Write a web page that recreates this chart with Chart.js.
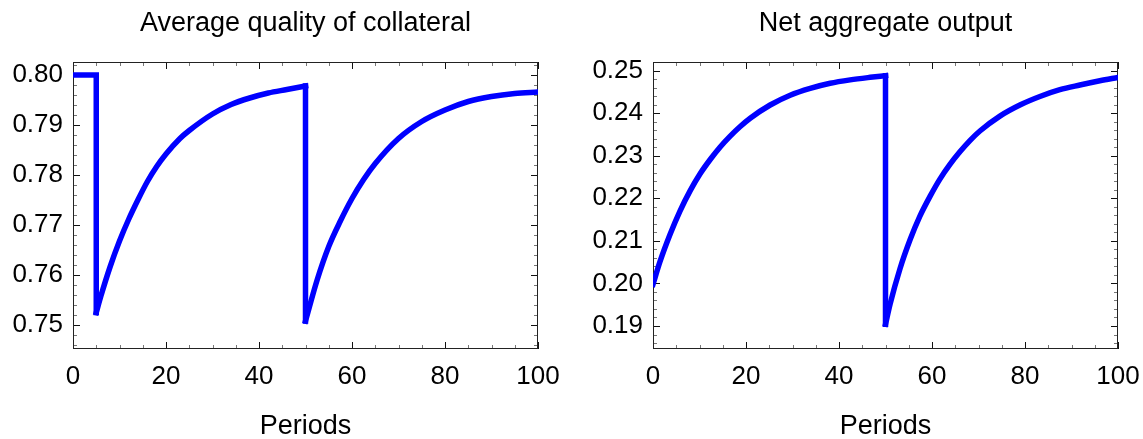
<!DOCTYPE html>
<html>
<head>
<meta charset="utf-8">
<script src="https://cdn.jsdelivr.net/npm/chart.js@4.4.0/dist/chart.umd.min.js"></script>
<style>
  html, body { margin: 0; padding: 0; background: #fff; overflow: hidden; }
  canvas { position: absolute; top: 0; }
  #qualityChart { left: 0; }
  #outputChart { left: 571px; }
</style>
</head>
<body>
<canvas id="qualityChart" width="571" height="439"></canvas>
<canvas id="outputChart" width="572" height="439"></canvas>
<script>
// Average quality of collateral
const qualityFlatT = [0, 5, 5];
const qualityFlat = [0.800, 0.800, 0.7525];
const qualityRec1T = [5, 6, 8, 10, 12, 14, 16, 18, 20, 23, 25, 30, 34, 38, 42, 46, 50];
const qualityRec1 = [0.7525, 0.7558, 0.7617, 0.7668, 0.7712, 0.7751, 0.7787, 0.7817, 0.7842, 0.7873, 0.7889, 0.7922, 0.7941, 0.7954, 0.7964, 0.7971, 0.7978];
const qualityDropT = [50, 50];
const qualityDrop = [0.7978, 0.7508];
const qualityRec2T = [50, 52.5, 55, 57.5, 60, 62.5, 65, 70, 75, 80, 85, 90, 95, 100];
const qualityRec2 = [0.7508, 0.7590, 0.7657, 0.7708, 0.7753, 0.7791, 0.7823, 0.7873, 0.7907, 0.7930, 0.7947, 0.7957, 0.7963, 0.7966];

// Net aggregate output
const outputRec1T = [0, 1.5, 3.7, 5.8, 8, 10.1, 12.3, 14.4, 16.6, 18.7, 20.9, 25.2, 29.5, 33.8, 38.1, 42.4, 46.7, 50];
const outputRec1 = [0.1998, 0.2051, 0.2116, 0.2170, 0.2218, 0.2257, 0.2291, 0.2320, 0.2346, 0.2368, 0.2388, 0.2419, 0.2442, 0.2458, 0.2470, 0.2478, 0.2484, 0.2488];
const outputDropT = [50, 50];
const outputDrop = [0.2488, 0.1904];
const outputRec2T = [50, 51, 53.1, 55.3, 57.4, 59.6, 61.7, 63.9, 66, 68.2, 70.3, 74.6, 78.9, 83.2, 87.5, 91.8, 96.1, 100];
const outputRec2 = [0.1904, 0.1952, 0.2034, 0.2103, 0.2158, 0.2205, 0.2245, 0.2280, 0.2309, 0.2336, 0.2358, 0.2393, 0.2419, 0.2439, 0.2455, 0.2466, 0.2476, 0.2484];

const xTicks = [0, 20, 40, 60, 80, 100];

const FONT = "'Liberation Sans', Arial, Helvetica, sans-serif";
const BLUE = '#0000ff';

// frame with inward ticks on all four sides, like the original plot
const frameTicks = {
    id: 'frameTicks',
    beforeDatasetsDraw(chart) {
        const { ctx, chartArea: a, scales: { x, y } } = chart;
        ctx.save();
        ctx.lineWidth = 1;

        const tick = (x1, y1, x2, y2, major) => {
            ctx.strokeStyle = major ? '#111' : '#777';
            ctx.beginPath();
            ctx.moveTo(x1, y1);
            ctx.lineTo(x2, y2);
            ctx.stroke();
        };

        for (let k = 0; k <= 20; k++) {
            const px = Math.round(x.getPixelForValue(k * 5)) + 0.5;
            const major = k % 4 === 0;
            const len = major ? 7 : 4;
            tick(px, a.bottom, px, a.bottom - len, major);
            tick(px, a.top, px, a.top + len, major);
        }

        const kMin = Math.ceil(y.min / 0.002 - 1e-6);
        const kMax = Math.floor(y.max / 0.002 + 1e-6);
        for (let k = kMin; k <= kMax; k++) {
            const py = Math.round(y.getPixelForValue(k * 0.002)) + 0.5;
            const major = k % 5 === 0;
            const len = major ? 7 : 4;
            tick(a.left, py, a.left + len, py, major);
            tick(a.right, py, a.right - len, py, major);
        }

        ctx.strokeStyle = '#222';
        ctx.strokeRect(a.left + 0.5, a.top + 0.5, a.right - a.left - 1, a.bottom - a.top - 1);
        ctx.restore();
    }
};

function toPoints(ts, vs) {
    return ts.map((t, i) => ({ x: t, y: vs[i] }));
}

function segment(ts, vs, curve) {
    return {
        data: toPoints(ts, vs),
        borderColor: BLUE,
        borderWidth: 5.5,
        borderCapStyle: 'square',
        borderJoinStyle: 'miter',
        pointRadius: 0,
        fill: false,
        cubicInterpolationMode: curve ? 'monotone' : 'default'
    };
}

function makeChart(id, title, datasets, yMin, yMax, yAxisWidth, padRight) {
    const ctx = document.getElementById(id).getContext('2d');
    return new Chart(ctx, {
        type: 'line',
        data: { datasets: datasets },
        options: {
            responsive: false,
            animation: false,
            layout: { padding: { left: 0, right: padRight, top: 0, bottom: 0 } },
            plugins: {
                legend: { display: false },
                tooltip: { enabled: false },
                title: {
                    display: true,
                    text: title,
                    fullSize: false,
                    color: '#000',
                    font: { family: FONT, size: 27, weight: 'normal' },
                    padding: { top: 7, bottom: 22.6 }
                }
            },
            scales: {
                x: {
                    type: 'linear',
                    min: 0,
                    max: 100,
                    grid: { display: false, drawTicks: false },
                    border: { display: false },
                    afterBuildTicks: s => { s.ticks = xTicks.map(v => ({ value: v })); },
                    ticks: {
                        color: '#000',
                        padding: 12,
                        maxRotation: 0,
                        font: { family: FONT, size: 26 }
                    },
                    title: {
                        display: true,
                        text: 'Periods',
                        color: '#000',
                        font: { family: FONT, size: 27, lineHeight: 0.9 },
                        padding: 0
                    },
                    afterFit: s => {
                        s.height = 90;
                        s.paddingLeft = 0;
                        s.paddingRight = 0;
                    }
                },
                y: {
                    min: yMin,
                    max: yMax,
                    grid: { display: false, drawTicks: false },
                    border: { display: false },
                    ticks: {
                        stepSize: 0.01,
                        includeBounds: false,
                        color: '#000',
                        padding: 10,
                        font: { family: FONT, size: 26 },
                        callback: v => v.toFixed(2)
                    },
                    afterFit: s => {
                        s.width = yAxisWidth;
                        s.paddingTop = 0;
                        s.paddingBottom = 0;
                    }
                }
            }
        },
        plugins: [frameTicks]
    });
}

makeChart('qualityChart', 'Average quality of collateral', [
    segment(qualityFlatT, qualityFlat, false),
    segment(qualityRec1T, qualityRec1, true),
    segment(qualityDropT, qualityDrop, false),
    segment(qualityRec2T, qualityRec2, true)
], 0.7452, 0.8026, 73, 33);

makeChart('outputChart', 'Net aggregate output', [
    segment(outputRec1T, outputRec1, true),
    segment(outputDropT, outputDrop, false),
    segment(outputRec2T, outputRec2, true)
], 0.1846, 0.2520, 82, 25);
</script>
</body>
</html>
